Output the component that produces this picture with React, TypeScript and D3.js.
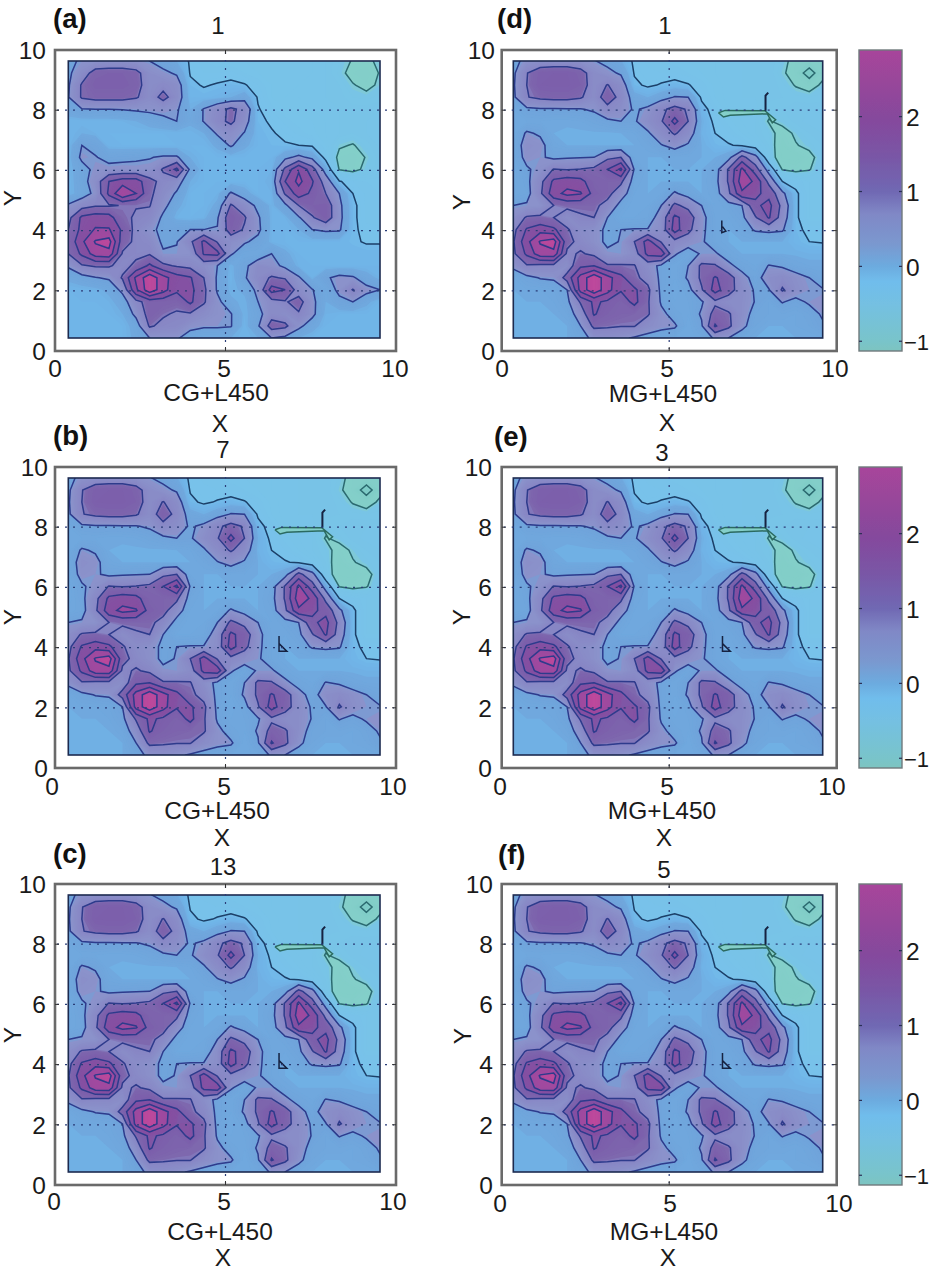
import React, { useEffect, useRef } from 'react';
import * as d3 from 'd3';

// grid nodes, x 0.4..9.6 and y 9.6..0.4
const gridX = [0.4, 0.8, 1.2, 1.6, 2.0, 2.4, 2.8, 3.2, 3.6, 4.0, 4.4, 4.8, 5.2, 5.6, 6.0, 6.4, 6.8, 7.2, 7.6, 8.0, 8.4, 8.8, 9.2, 9.6];

const fieldCG1 = [
  [.42,.55,.6,.62,.62,.58,.5,.35,.2,-.03,-.15,-.2,-.2,-.2,-.2,-.2,-.2,-.2,-.25,-.3,-.4,-.52,-.55,-.45],
  [.42,.75,1.2,1.25,1.25,1.15,.7,.58,.45,-.02,-.1,-.1,-.08,-.15,-.2,-.2,-.2,-.2,-.25,-.3,-.42,-.6,-.65,-.48],
  [.45,1.05,1.3,1.3,1.3,1.2,.72,.85,.72,.05,-.02,.02,.06,.02,-.1,-.2,-.22,-.25,-.25,-.3,-.35,-.48,-.58,-.45],
  [.48,1.05,1.15,1.15,1.15,1.05,.75,1.15,.75,.1,.08,.12,.2,.35,-.03,-.2,-.25,-.25,-.25,-.3,-.32,-.4,-.42,-.38],
  [.35,.48,.5,.5,.52,.55,.58,.62,.55,.2,.52,.8,1.1,.85,.02,-.12,-.2,-.22,-.25,-.28,-.3,-.32,-.32,-.3],
  [.1,.12,.12,.12,.15,.2,.3,.4,.5,.25,.52,.85,1.1,.7,.05,-.03,-.12,-.18,-.2,-.25,-.3,-.3,-.3,-.28],
  [.1,.2,.15,.1,.1,.1,.1,.1,.12,.12,.2,.55,.7,.48,.08,.02,-.05,-.12,-.18,-.25,-.3,-.35,-.3,-.28],
  [.1,.5,.4,.12,.1,.1,.1,.1,.1,.1,.1,.25,.55,.25,.1,.05,.02,.0,-.03,-.2,-.46,-.52,-.38,-.28],
  [.12,.58,.52,.4,.42,.45,.48,.55,.55,.2,.1,.1,.1,.1,.1,.1,.4,.6,.4,-.1,-.6,-.65,-.48,-.3],
  [.12,.35,.6,.6,.62,.6,.62,1.05,1.6,.4,.1,.1,.1,.1,.1,.15,1.1,1.95,1.2,.3,-.52,-.6,-.42,-.3],
  [.1,.35,.7,1.5,1.75,1.75,1.15,.85,.7,.2,.1,.1,.1,.1,.1,.2,1.5,2.15,1.55,.75,.02,-.1,-.15,-.15],
  [.12,.3,.6,1.6,2.5,2.0,1.1,.75,.45,.1,.1,.15,.55,.3,.1,.15,1.05,1.75,1.4,1.0,.5,.0,-.12,-.15],
  [.55,.8,.95,.95,1.02,1.02,1.02,.62,.25,.1,.1,.25,1.05,.75,.4,.15,.4,1.0,1.25,1.3,.6,.05,-.12,-.15],
  [.85,1.6,1.75,1.7,1.1,.95,.85,.42,.15,.1,.15,.45,1.35,1.05,.55,.15,.15,.45,.95,1.3,.62,.05,-.12,-.15],
  [1.0,1.65,2.05,2.05,1.4,.85,.6,.4,.45,.5,.5,.52,1.25,.95,.58,.15,.1,.2,.5,.58,.55,.05,-.08,-.08],
  [1.1,1.9,2.55,2.7,1.2,.9,.8,.42,.48,.9,1.6,.95,.7,.55,.4,.15,.1,.1,.1,.1,.1,.03,-.02,-.02],
  [1.0,1.6,2.25,2.35,.95,.9,.95,.55,.55,.6,1.55,1.65,.55,.25,.25,.5,.25,.1,.1,.1,.1,.1,.08,.08],
  [.55,.95,1.05,1.05,.85,1.1,1.6,1.1,.95,.85,.7,.5,.15,.4,.75,.65,.4,.15,.1,.1,.1,.1,.1,.1],
  [.25,.35,.48,.55,1.05,2.1,2.85,2.2,1.7,1.55,1.0,.45,.12,.45,.8,1.05,.95,.55,.15,.45,.6,.55,.3,.15],
  [.1,.12,.15,.25,.6,1.9,2.85,2.2,1.6,1.65,1.1,.45,.15,.25,.6,1.7,1.5,.75,.52,.25,.6,1.02,.62,.5],
  [.1,.1,.1,.15,.3,.85,1.2,1.2,1.15,1.6,1.05,.6,.25,.15,.5,.8,.95,1.2,.6,.2,.4,.5,.25,.1],
  [.1,.1,.1,.1,.2,.6,1.2,1.05,.95,.95,.75,.6,.52,.15,.35,.8,.7,.95,.6,.15,.1,.1,.1,.1],
  [.1,.1,.1,.1,.1,.3,1.05,.9,.85,.62,.55,.55,.52,.12,.45,1.2,1.1,.6,.3,.1,.1,.1,.1,.1],
  [.1,.1,.1,.1,.1,.25,.5,.55,.55,.3,.2,.2,.2,.1,.2,.5,.4,.2,.1,.1,.1,.1,.1,.1],
];

const fieldLater = [
  [.4,.6,.65,.68,.68,.62,.52,.4,.22,-.05,-.12,-.15,-.18,-.2,-.22,-.25,-.28,-.3,-.3,-.3,-.42,-.6,-.6,-.62],
  [.42,.98,1.3,1.35,1.35,1.2,.75,.6,.45,-.02,-.08,-.1,-.1,-.15,-.2,-.25,-.28,-.3,-.3,-.3,-.46,-.62,-1.3,-.58],
  [.45,1.0,1.35,1.38,1.38,1.25,.75,1.02,.75,.05,-.04,.02,.08,.02,-.12,-.22,-.28,-.3,-.3,-.3,-.38,-.52,-.62,-.45],
  [.42,.98,1.1,1.15,1.15,1.05,.75,1.25,.85,.3,.2,.35,.52,.5,-.05,-.2,-.28,-.3,-.3,-.32,-.35,-.38,-.4,-.38],
  [.25,.42,.46,.46,.47,.48,.55,.85,.7,.45,.58,.9,1.15,.95,.1,-.12,-.25,-.28,-.28,-.4,-.35,-.3,-.3,-.3],
  [.2,.25,.25,.22,.22,.25,.33,.42,.5,.46,.7,.95,1.65,1.0,.2,-.06,-.18,-.25,-.3,-.52,-.42,-.32,-.28,-.28],
  [.2,.55,.45,.2,.18,.18,.18,.18,.2,.25,.45,.75,1.05,.75,.15,.0,-.1,-.2,-.3,-.4,-.62,-.45,-.35,-.3],
  [.25,.68,.62,.28,.2,.2,.2,.2,.2,.2,.3,.48,.62,.45,.2,.06,.02,-.04,-.18,-.35,-.7,-.52,-.42,-.35],
  [.25,.62,.55,.42,.46,.48,.5,.9,1.0,.25,.2,.2,.25,.25,.2,.2,.35,1.15,.65,-.3,-.72,-.75,-.6,-.35],
  [.2,.45,.62,1.02,.98,1.02,1.1,1.5,2.1,.45,.2,.2,.2,.2,.2,.3,1.05,2.1,1.2,.3,-.52,-.6,-.52,-.3],
  [.2,.4,.85,1.6,1.75,1.65,1.2,1.15,1.1,.3,.2,.2,.2,.2,.2,.35,1.05,2.3,1.9,.85,.0,-.1,-.2,-.2],
  [.25,.35,.9,1.8,2.15,2.05,1.3,1.15,.7,.25,.2,.25,.55,.35,.2,.3,.9,1.9,1.6,1.35,.6,.05,-.2,-.25],
  [.5,.55,.6,1.0,1.1,1.1,1.1,.85,.35,.2,.25,.5,1.1,.85,.5,.25,.35,.5,1.4,1.65,.85,.05,-.2,-.25],
  [.7,1.05,1.1,1.0,.75,.95,1.0,.5,.25,.25,.3,.7,1.6,1.3,.6,.3,.25,.4,.95,1.55,.75,.05,-.2,-.2],
  [.85,1.55,1.8,1.6,1.05,.75,.65,.42,.5,.52,.52,.7,1.7,1.15,.58,.3,.2,.3,.55,.6,.55,.05,-.05,-.05],
  [.95,1.85,2.55,2.75,1.15,.85,.65,.42,.52,1.0,1.7,.95,.85,.7,.55,.3,.2,.2,.2,.2,.2,.08,.0,-.02],
  [.9,1.6,2.3,2.35,.9,1.05,.9,.58,.55,.75,1.65,1.8,.55,.3,.55,.55,.3,.2,.2,.2,.2,.18,.15,.15],
  [.6,.95,.85,.85,.7,1.4,1.5,1.05,1.05,1.02,.7,.4,.25,.5,1.1,1.05,.6,.35,.25,.52,.45,.3,.25,.25],
  [.25,.4,.52,.55,1.2,2.2,2.85,2.2,1.65,1.1,.85,.4,.25,.55,1.1,1.55,1.25,.65,.35,.7,.8,.65,.5,.35],
  [.2,.25,.25,.3,.5,2.2,2.85,2.2,1.55,1.6,1.1,.4,.2,.35,.95,1.7,1.2,.75,.45,.48,1.05,.7,.55,.52],
  [.2,.2,.2,.25,.4,1.05,1.6,1.4,1.2,1.65,1.05,.45,.25,.3,.45,.9,.75,.7,.48,.3,.52,.4,.55,.6],
  [.2,.2,.2,.2,.3,.7,1.55,1.25,1.15,1.1,1.05,.6,.35,.25,.55,1.2,1.05,.7,.35,.3,.3,.25,.35,.55],
  [.2,.2,.2,.2,.2,.5,1.1,1.05,1.02,1.02,.75,.6,.55,.2,.45,1.55,1.1,.6,.3,.2,.2,.25,.3,.45],
  [.2,.2,.2,.2,.2,.35,.6,.7,.6,.45,.35,.3,.25,.2,.3,.55,.5,.3,.2,.2,.2,.2,.2,.25],
];

const contourLevels = [-1, -0.5, 0, 0.5, 1, 1.5, 2, 2.5];
// colour bar
const colorValues = [-1.13, -1, -0.5, -0.2, 0, 0.3, 0.7, 1, 1.5, 2, 2.5, 2.89];
const colorHex = ['#7cc4c0', '#79c4ca', '#74c0e2', '#70bdec', '#6cabdf', '#7a98cf', '#8088c6', '#7068b3', '#7a55a5', '#86489c', '#99469a', '#a8459b'];
// inside the plots the shading sits nearly flat between contour lines
const bandValues = [-1.4, -0.52, -0.48, -0.05, 0.02, 0.14, 0.19, 0.48, 0.52, 0.97, 1.03, 1.47, 1.53, 1.97, 2.03, 2.47, 2.53, 3];
const bandHex = ['#7ccac6', '#84cfc9', '#78c4e6', '#78c2ea', '#70b6e8', '#70b2e6', '#6fa8de', '#6fa2da', '#8b93cb', '#8785c4', '#7e67ae', '#7a5caa', '#8352a3', '#874ea0', '#9c4a9f', '#a2499f', '#b8489c', '#c0489c'];
const axisTicks = [0, 5, 10];
const gridLines = [2, 4, 6, 8];
const barTicks = [-1, 0, 1, 2];

// thin slivers too narrow for the grid, in data units
const sliver: [number, number][] = [[6.5, 7.88], [6.7, 7.96], [7.88, 7.95], [8.2, 7.65], [8.1, 7.55], [7.95, 7.85], [6.85, 7.8], [6.65, 7.74], [6.5, 7.88]];
const spike: [number, number][] = [[7.9, 7.95], [7.9, 8.45], [7.98, 8.55]];
const lMark: [number, number][] = [[6.62, 4.35], [6.62, 3.85], [6.85, 3.85], [6.62, 4.1]];
const dMark: [number, number][] = [[6.6, 4.3], [6.6, 3.9], [6.72, 3.95], [6.62, 4.1]];

const panels = [
  { id: '(a)', title: '1', xName: 'CG+L450', field: fieldCG1, marks: [], frame: [55, 396, 50, 351], inner: [68.3, 380], tag: [53, 28], titleAt: [218, 25], xNameAt: [216, 392], xAt: [220, 423], yAt: [12, 198], tickY: 368, tickX: [55, 224, 395], tickRight: 46, bar: false },
  { id: '(b)', title: '7', xName: 'CG+L450', field: fieldLater, marks: [sliver, spike, lMark], frame: [55, 396, 467, 768], inner: [68.3, 380], tag: [53, 445], titleAt: [223, 449], xNameAt: [217, 810], xAt: [222, 837], yAt: [12, 617], tickY: 786, tickX: [52, 224, 393], tickRight: 48, bar: false },
  { id: '(c)', title: '13', xName: 'CG+L450', field: fieldLater, marks: [sliver, spike, lMark], frame: [55, 396, 884, 1185], inner: [68.3, 380], tag: [53, 863], titleAt: [223, 866], xNameAt: [220, 1231], xAt: [223, 1257], yAt: [12, 1035], tickY: 1201, tickX: [54, 224, 393], tickRight: 46, bar: false },
  { id: '(d)', title: '1', xName: 'MG+L450', field: fieldLater, marks: [sliver, spike, dMark], frame: [501.7, 836.7, 50, 351], inner: [513.3, 822.7], tag: [497, 28], titleAt: [665, 25], xNameAt: [663, 393], xAt: [667, 422], yAt: [461, 202], tickY: 368, tickX: [502, 667, 835], tickRight: 495, bar: true },
  { id: '(e)', title: '3', xName: 'MG+L450', field: fieldLater, marks: [sliver, spike, lMark], frame: [501.7, 836.7, 467, 768], inner: [513.3, 822.7], tag: [494, 446], titleAt: [662, 452], xNameAt: [662, 810], xAt: [664, 837], yAt: [461, 617], tickY: 786, tickX: [500, 667, 832], tickRight: 492, bar: true },
  { id: '(f)', title: '5', xName: 'MG+L450', field: fieldLater, marks: [sliver, spike, lMark], frame: [501.7, 836.7, 884, 1185], inner: [513.3, 822.7], tag: [498, 864], titleAt: [664, 869], xNameAt: [664, 1231], xAt: [668, 1257], yAt: [462, 1036], tickY: 1203, tickX: [500, 670, 839], tickRight: 493, bar: true },
];

const FONT = "'Liberation Sans', Arial, sans-serif";
const LINE = '#2d3a8c';

const App: React.FC = () => {
  const svgRef = useRef<SVGSVGElement>(null);

  useEffect(() => {
    if (!svgRef.current) return;
    const svg = d3.select(svgRef.current);
    svg.selectAll('*').remove();

    const color = d3.scaleLinear<string>().domain(colorValues).range(colorHex);
    const band = d3.scaleLinear<string>().domain(bandValues).range(bandHex);
    const defs = svg.append('defs');
    defs.append('filter').attr('id', 'soft').append('feGaussianBlur').attr('stdDeviation', 0.4);
    const grad = defs.append('linearGradient').attr('id', 'barGrad').attr('x1', 0).attr('x2', 0).attr('y1', 1).attr('y2', 0);
    colorValues.forEach(v => {
      grad.append('stop')
        .attr('offset', (v - colorValues[0]) / (colorValues[colorValues.length - 1] - colorValues[0]))
        .attr('stop-color', color(v));
    });

    const fills = d3.range(-1.4, 3.0, 0.05);
    const text = (parent: any, s: string, x: number, y: number, size = 24.5, anchor = 'middle') =>
      parent.append('text')
        .attr('x', x).attr('y', y).attr('dy', '.36em')
        .attr('text-anchor', anchor)
        .attr('font-family', FONT).attr('font-size', size).attr('fill', '#1a1a1a')
        .text(s);

    panels.forEach((p, pi) => {
      const [fx0, fx1, fy0, fy1] = p.frame;
      const root = svg.append('g');
      const g = root.append('g').attr('filter', 'url(#soft)');
      const x = d3.scaleLinear().domain([0, 10]).range([fx0, fx1]);
      const y = d3.scaleLinear().domain([0, 10]).range([fy1, fy0]);
      // the shaded area is a little off 0.4..9.6 in the left and right columns
      const px = d3.scaleLinear().domain([gridX[0], gridX[gridX.length - 1]]).range(p.inner);
      const py = d3.scaleLinear().domain([gridX[0], gridX[gridX.length - 1]]).range([fy1 - 13, fy0 + 11]);

      g.append('rect')
        .attr('x', fx0).attr('y', fy0).attr('width', fx1 - fx0).attr('height', fy1 - fy0)
        .attr('fill', '#fff').attr('stroke', '#6a6a6a').attr('stroke-width', 2.6);

      const clipId = `clip${pi}`;
      defs.append('clipPath').attr('id', clipId).append('rect')
        .attr('x', p.inner[0]).attr('y', py(9.6)).attr('width', p.inner[1] - p.inner[0]).attr('height', py(0.4) - py(9.6));

      const n = gridX.length;
      const values = (p.field as number[][]).flat();
      // contour coords: node i sits at i + 0.5
      const cx = d3.scaleLinear().domain([0.5, n - 0.5]).range(p.inner);
      const cy = d3.scaleLinear().domain([0.5, n - 0.5]).range([py(9.6), py(0.4)]);
      const path = d3.geoPath(d3.geoTransform({
        point(a: number, b: number) { (this as any).stream.point(cx(a), cy(b)); },
      }));

      const plot = g.append('g').attr('clip-path', `url(#${clipId})`);
      const gen = d3.contours().size([n, n]);
      plot.selectAll('path.fill')
        .data(gen.thresholds(fills)(values))
        .enter().append('path')
        .attr('class', 'fill')
        .attr('d', d => path(d as any))
        .attr('fill', d => band(d.value));

      plot.selectAll('path.level')
        .data(gen.thresholds(contourLevels)(values))
        .enter().append('path')
        .attr('class', 'level')
        .attr('d', d => path(d as any))
        .attr('fill', 'none')
        .attr('stroke', d => d.value < 0 ? '#2c6a70' : d.value === 0 ? '#1c3f68' : LINE)
        .attr('stroke-width', 1.5);

      const markLine = d3.line<[number, number]>().x(d => px(d[0])).y(d => py(d[1]));
      (p.marks as [number, number][][]).forEach(m => {
        plot.append('path')
          .attr('d', markLine(m))
          .attr('fill', m === sliver ? '#84cfc9' : 'none')
          .attr('stroke', m === sliver ? '#2c6a60' : '#152040')
          .attr('stroke-width', m === spike ? 2 : 1.5);
      });

      g.append('rect')
        .attr('x', p.inner[0]).attr('y', py(9.6))
        .attr('width', p.inner[1] - p.inner[0]).attr('height', py(0.4) - py(9.6))
        .attr('fill', 'none').attr('stroke', '#1d2a50').attr('stroke-width', 1.6);

      // dotted grid and the little frame ticks
      gridLines.forEach(v => {
        g.append('line').attr('x1', fx0 + 2).attr('x2', fx1 - 2).attr('y1', y(v)).attr('y2', y(v))
          .attr('stroke', '#2b3d78').attr('stroke-width', 1.2).attr('stroke-dasharray', '2,6');
        g.append('line').attr('x1', fx0).attr('x2', fx0 + 4).attr('y1', y(v)).attr('y2', y(v)).attr('stroke', '#333');
        g.append('line').attr('x1', fx1 - 4).attr('x2', fx1).attr('y1', y(v)).attr('y2', y(v)).attr('stroke', '#333');
      });
      g.append('line').attr('x1', x(5)).attr('x2', x(5)).attr('y1', fy0 + 2).attr('y2', fy1 - 2)
        .attr('stroke', '#2b3d78').attr('stroke-width', 1.2).attr('stroke-dasharray', '2,6');
      g.append('line').attr('x1', x(5)).attr('x2', x(5)).attr('y1', fy0).attr('y2', fy0 + 4).attr('stroke', '#333');
      g.append('line').attr('x1', x(5)).attr('x2', x(5)).attr('y1', fy1 - 4).attr('y2', fy1).attr('stroke', '#333');

      axisTicks.forEach((v, i) => text(root, String(v), p.tickX[i], p.tickY));
      [0, 2, 4, 6, 8, 10].forEach(v => text(root, String(v), p.tickRight, y(v), 24.5, 'end'));

      text(root, p.title, p.titleAt[0], p.titleAt[1], 24);
      text(root, p.xName, p.xNameAt[0], p.xNameAt[1], 24.5);
      text(root, 'X', p.xAt[0], p.xAt[1], 24.5);
      text(root, 'Y', 0, 0, 24.5).attr('transform', `translate(${p.yAt[0]},${p.yAt[1]}) rotate(-90)`);
      text(root, p.id, p.tag[0], p.tag[1], 27.5, 'start').attr('dy', 0).attr('font-weight', 700).attr('fill', '#111');

      if (p.bar) {
        const bar = d3.scaleLinear().domain([colorValues[0], colorValues[colorValues.length - 1]]).range([fy1, fy0]);
        const barG = root.append('g');
        barG.append('rect')
          .attr('x', 859).attr('y', fy0).attr('width', 43).attr('height', fy1 - fy0)
          .attr('fill', 'url(#barGrad)').attr('stroke', '#6f7a7c').attr('stroke-width', 1.4)
          .attr('filter', 'url(#soft)');
        barTicks.forEach(v => {
          barG.append('line').attr('x1', 859).attr('x2', 862).attr('y1', bar(v)).attr('y2', bar(v)).attr('stroke', '#2a2f55').attr('stroke-width', 1.2);
          barG.append('line').attr('x1', 899).attr('x2', 902).attr('y1', bar(v)).attr('y2', bar(v)).attr('stroke', '#2a2f55').attr('stroke-width', 1.2);
          if (v < 0) text(barG, `\u2212${-v}`, 904, bar(v) + 1, 22, 'start');
          else text(barG, String(v), 906, bar(v) + 1, 24.5, 'start');
        });
      }
    });
  }, []);

  return (
    <svg
      ref={svgRef}
      width={930}
      height={1268}
      style={{ position: 'absolute', left: 0, top: 0, background: '#fff', display: 'block' }}
    />
  );
};

export default App;
